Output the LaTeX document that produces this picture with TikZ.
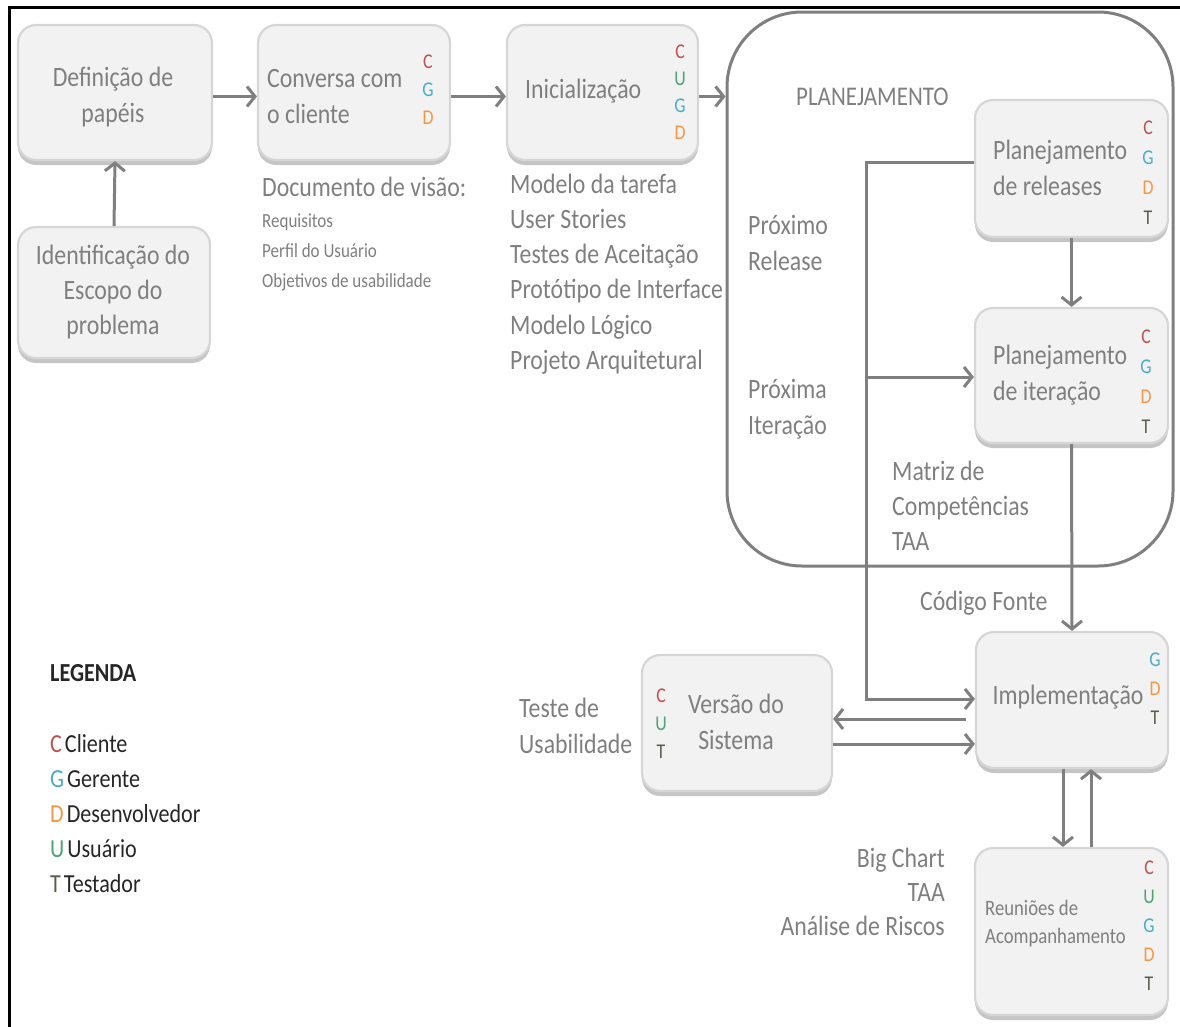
\documentclass[tikz,border=0pt]{standalone}
\usepackage{fontspec}
\setmainfont{Carlito}[FakeStretch=0.85]
\usetikzlibrary{arrows.meta,shadows}
\definecolor{boxfill}{HTML}{F2F2F2}
\definecolor{boxline}{HTML}{D6D6D6}
\definecolor{txtgray}{HTML}{7F7F7F}
\definecolor{linegray}{HTML}{7F7F7F}
\definecolor{cC}{HTML}{C0504D}
\definecolor{cG}{HTML}{4BACC6}
\definecolor{cD}{HTML}{F79646}
\definecolor{cU}{HTML}{4EA377}
\definecolor{cT}{HTML}{5C5C4C}
\definecolor{legtxt}{HTML}{262626}
\begin{document}
\begin{tikzpicture}[x=1pt,y=-1pt,
  box/.style={draw=boxline, line width=2.2pt, fill=boxfill, rounded corners=18pt, inner sep=0pt,
    drop shadow={shadow xshift=0pt, shadow yshift=-5pt, fill=black!45, opacity=0.5}},
  bt/.style={text=txtgray, font=\fontsize{28}{36}\selectfont, inner sep=0pt, align=center},
  btl/.style={bt, align=left, anchor=west},
  small/.style={text=txtgray, font=\fontsize{20}{30}\selectfont, inner sep=0pt, align=left, anchor=west},
  rolesty/.style={font=\fontsize{21}{28}\selectfont, inner sep=0pt, align=center},
  legsty/.style={text=legtxt, font=\fontsize{26}{35}\selectfont, inner sep=0pt, align=left, anchor=west},
  arr/.style={draw=linegray, line width=3pt, -{Straight Barb[length=8pt,width=20pt,line width=3pt]}},
  container/.style={draw=linegray, line width=3pt, rounded corners=75pt, inner sep=0pt}
]
\useasboundingbox (0,0) rectangle (1180,1026);
% frame
\draw[line width=3pt] (9,1030) -- (9,7) -- (1185,7);

% planning container
\node[container, minimum width=446pt, minimum height=554pt] (plan) at (950,289) {};
\node[bt, anchor=west, font=\fontsize{27}{30}\selectfont] (plan-t) at (796,97) {PLANEJAMENTO};

% boxes
\node[box, minimum width=194pt, minimum height=135pt] (def) at (115,92.5) {};
\node[box, minimum width=192pt, minimum height=135pt] (conv) at (354,92.5) {};
\node[box, minimum width=191pt, minimum height=135pt] (ini) at (602.5,92.5) {};
\node[box, minimum width=192pt, minimum height=131pt] (ide) at (114,292.5) {};
\node[box, minimum width=193pt, minimum height=137pt] (rel) at (1071.5,168.5) {};
\node[box, minimum width=193pt, minimum height=135pt] (ite) at (1071.5,375.5) {};
\node[box, minimum width=192pt, minimum height=136pt] (imp) at (1072,700) {};
\node[box, minimum width=190pt, minimum height=136pt] (ver) at (737,723) {};
\node[box, minimum width=193pt, minimum height=167pt] (reu) at (1071.5,931.5) {};

% box texts
\node[bt] (def-t) at (113,97) {Definição de\\papéis};
\node[btl] (conv-t) at (267,97) {Conversa com\\o cliente};
\node[rolesty] (conv-r) at (428,90) {\textcolor{cC}{C}\\\textcolor{cG}{G}\\\textcolor{cD}{D}};
\node[btl] (ini-t) at (525,91) {Inicialização};
\node[rolesty, font=\fontsize{21}{27}\selectfont] (ini-r) at (680,92.5) {\textcolor{cC}{C}\\\textcolor{cU}{U}\\\textcolor{cG}{G}\\\textcolor{cD}{D}};
\node[bt, font=\fontsize{28}{35}\selectfont] (ide-t) at (113,292) {Identificação do\\Escopo do\\problema};
\node[btl] (rel-t) at (993,168) {Planejamento\\de releases};
\node[rolesty, font=\fontsize{21}{30}\selectfont] (rel-r) at (1148,172.5) {\textcolor{cC}{C}\\\textcolor{cG}{G}\\\textcolor{cD}{D}\\\textcolor{cT}{T}};
\node[btl] (ite-t) at (993,375) {Planejamento\\de iteração};
\node[rolesty, font=\fontsize{21}{30}\selectfont] (ite-r) at (1146,381.5) {\textcolor{cC}{C}\\\textcolor{cG}{G}\\\textcolor{cD}{D}\\\textcolor{cT}{T}};
\node[bt] (imp-t) at (1068,697) {Implementação};
\node[rolesty, font=\fontsize{21}{29}\selectfont] (imp-r) at (1155,689) {\textcolor{cG}{G}\\\textcolor{cD}{D}\\\textcolor{cT}{T}};
\node[bt] (ver-t) at (736,722) {Versão do\\Sistema};
\node[rolesty, font=\fontsize{21}{28}\selectfont] (ver-r) at (661,723.5) {\textcolor{cC}{C}\\\textcolor{cU}{U}\\\textcolor{cT}{T}};
\node[btl, font=\fontsize{22}{28}\selectfont] (reu-t) at (985,924) {Reuniões de\\Acompanhamento};
\node[rolesty, font=\fontsize{21}{29}\selectfont] (reu-r) at (1149,926) {\textcolor{cC}{C}\\\textcolor{cU}{U}\\\textcolor{cG}{G}\\\textcolor{cD}{D}\\\textcolor{cT}{T}};

% descriptive texts
\node[btl] (docv) at (262,187) {Documento de visão:};
\node[small] (req) at (262,252.5) {Requisitos\\Perfil do Usuário\\Objetivos de usabilidade};
\node[btl, font=\fontsize{28}{35.2}\selectfont] (inil) at (510,274) {Modelo da tarefa\\User Stories\\Testes de Aceitação\\Protótipo de Interface\\Modelo Lógico\\Projeto Arquitetural};
\node[btl] (prel) at (748,243) {Próximo\\Release};
\node[btl] (pite) at (748,409) {Próxima\\Iteração};
\node[btl, font=\fontsize{28}{35}\selectfont] (matr) at (892,506) {Matriz de\\Competências\\TAA};
\node[btl] (cod) at (920,603) {Código Fonte};
\node[btl] (tus) at (519,726) {Teste de\\Usabilidade};
\node[bt, align=right, anchor=east, font=\fontsize{28}{34}\selectfont] (big) at (945,892) {Big Chart\\TAA\\Análise de Riscos};

% legend
\node[legsty, font=\fontsize{26}{30}\bfseries\selectfont] (leg) at (50,673) {LEGENDA};
\node[legsty] (legl) at (50,814) {\textcolor{cC}{C}\hspace{3pt}Cliente\\\textcolor{cG}{G}\hspace{3pt}Gerente\\\textcolor{cD}{D}\hspace{3pt}Desenvolvedor\\\textcolor{cU}{U}\hspace{3pt}Usuário\\\textcolor{cT}{T}\hspace{3pt}Testador};

% connectors
\draw[arr] ([yshift=-4pt]def.east) -- ([yshift=-4pt]conv.west);
\draw[arr] ([yshift=-4pt]conv.east) -- ([yshift=-4pt]ini.west);
\draw[arr] ([yshift=-4pt]ini.east) -- ([yshift=-4pt]ini.east -| plan.west);
\draw[arr] (ide.north) -- (def.south);
\draw[arr] (rel.south) -- (ite.north);
\draw[arr] (ite.south) -- (imp.north);
\coordinate (p1) at (866,162);
\coordinate (p2) at (866,699);
\coordinate (p3) at (866,377);
\draw[arr] (rel.west |- p1) -- (p1) -- (p2) -- (imp.west |- p2);
\draw[arr] (p3) -- (ite.west |- p3);
\coordinate (q1) at (966,719);
\coordinate (q2) at (0,744);
\draw[arr] (q1) -- (ver.east |- q1);
\draw[arr] (ver.east |- q2) -- (imp.west |- q2);
\coordinate (r1) at (1063,0);
\coordinate (r2) at (1091,0);
\draw[arr] (imp.south -| r1) -- (reu.north -| r1);
\draw[arr] (reu.north -| r2) -- (imp.south -| r2);
\end{tikzpicture}
\end{document}
